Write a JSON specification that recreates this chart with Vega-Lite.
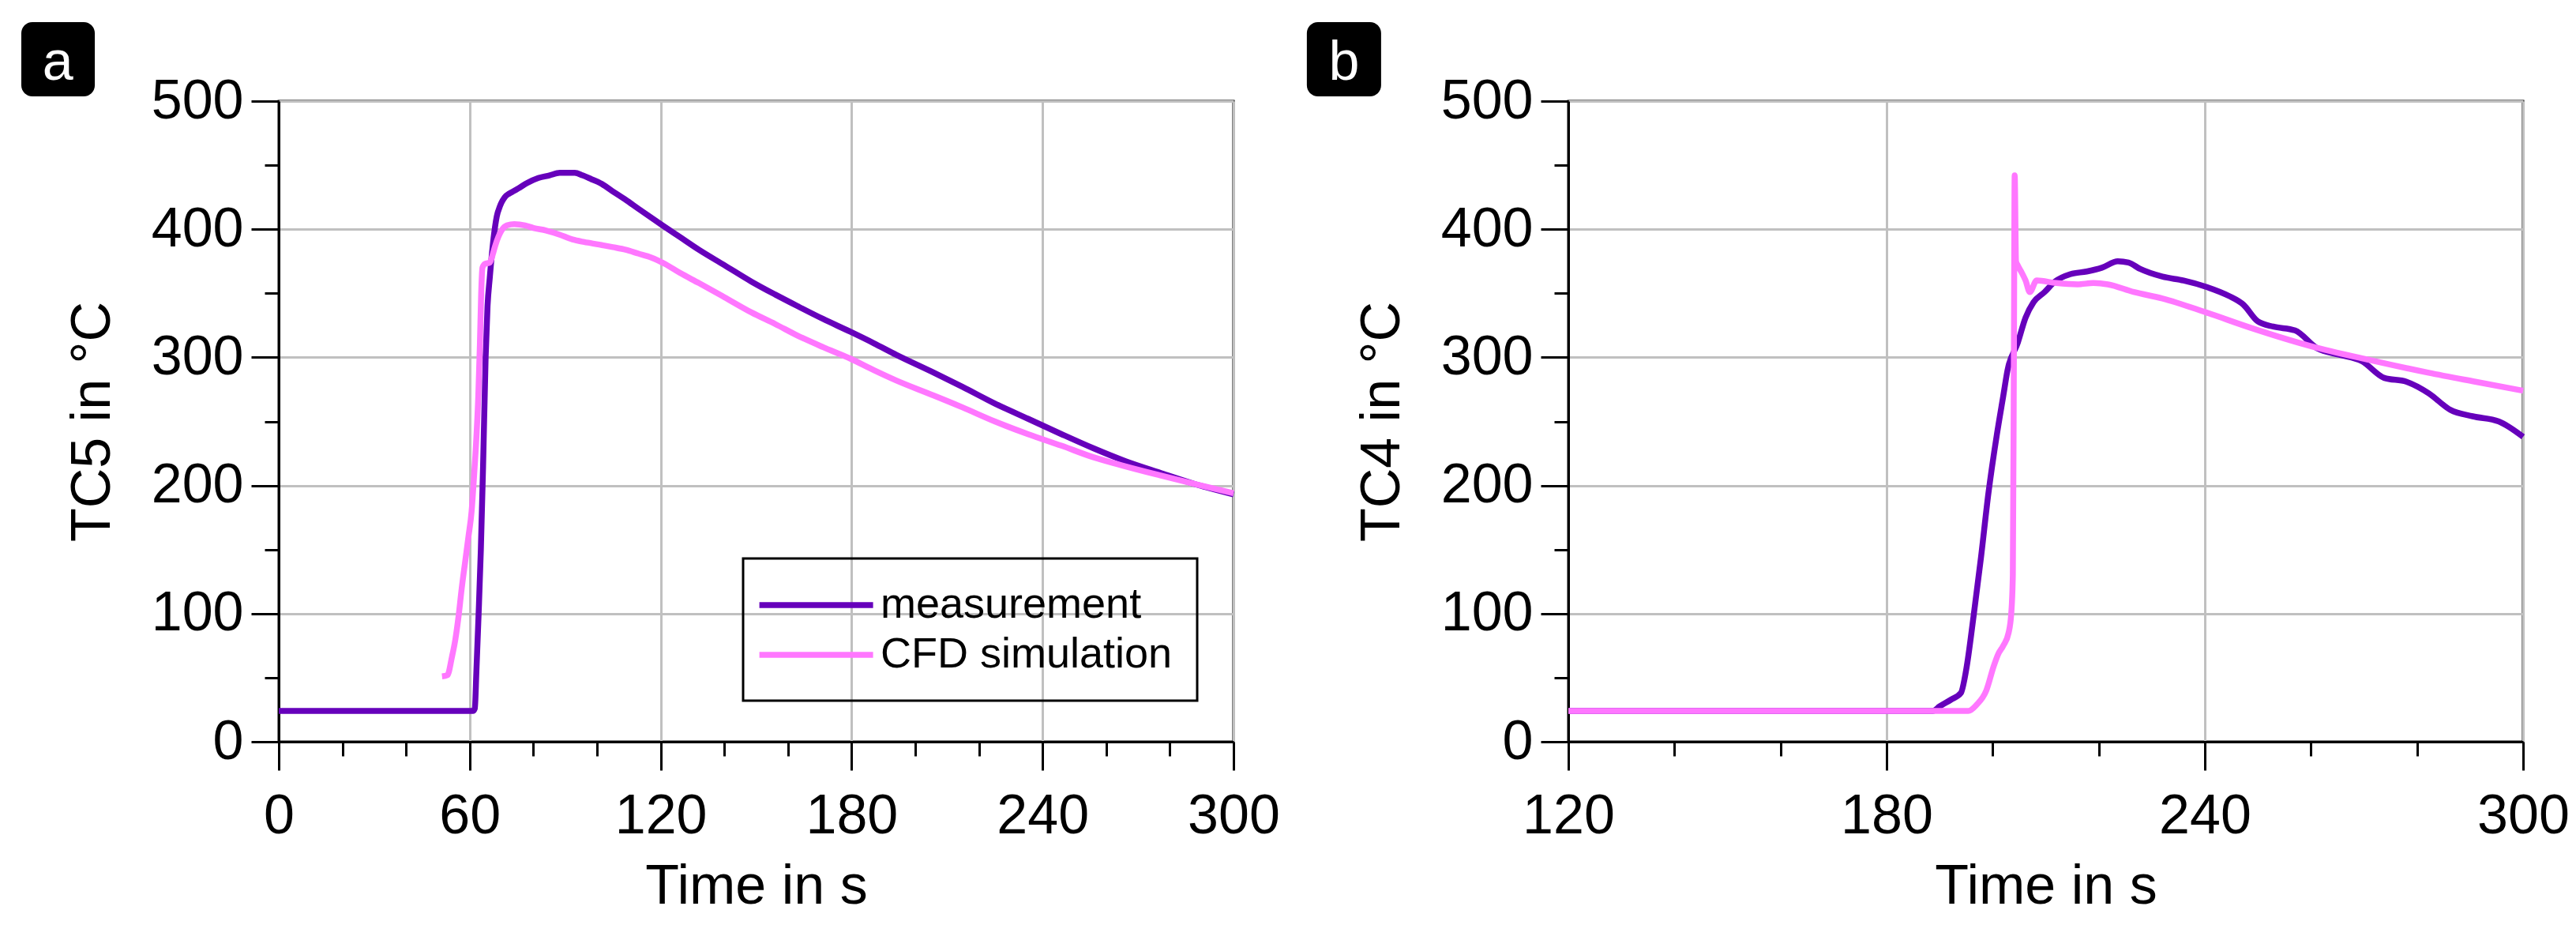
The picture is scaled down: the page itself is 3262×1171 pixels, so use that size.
{
  "$schema": "https://vega.github.io/schema/vega-lite/v6.json",
  "background": "white",
  "padding": {"left": 25, "top": 26, "right": 10, "bottom": 10},
  "bounds": "flush",
  "spacing": 424,
  "resolve": {"legend": {"color": "independent"}},
  "datasets": {
    "a": [
      {"t": 0, "T": 24, "series": "measurement"},
      {"t": 61, "T": 24, "series": "measurement"},
      {"t": 61.6, "T": 26, "series": "measurement"},
      {"t": 62.1, "T": 55, "series": "measurement"},
      {"t": 62.8, "T": 100, "series": "measurement"},
      {"t": 63.5, "T": 150, "series": "measurement"},
      {"t": 64.2, "T": 215, "series": "measurement"},
      {"t": 65, "T": 300, "series": "measurement"},
      {"t": 65.6, "T": 340, "series": "measurement"},
      {"t": 66.3, "T": 362, "series": "measurement"},
      {"t": 67.5, "T": 393, "series": "measurement"},
      {"t": 68.5, "T": 410, "series": "measurement"},
      {"t": 69.5, "T": 418, "series": "measurement"},
      {"t": 71, "T": 425, "series": "measurement"},
      {"t": 72.5, "T": 428, "series": "measurement"},
      {"t": 74, "T": 430, "series": "measurement"},
      {"t": 76, "T": 433, "series": "measurement"},
      {"t": 78, "T": 436, "series": "measurement"},
      {"t": 81.6, "T": 440, "series": "measurement"},
      {"t": 85, "T": 442, "series": "measurement"},
      {"t": 88.3, "T": 444, "series": "measurement"},
      {"t": 93, "T": 444, "series": "measurement"},
      {"t": 95.5, "T": 442, "series": "measurement"},
      {"t": 98.3, "T": 439, "series": "measurement"},
      {"t": 101, "T": 436, "series": "measurement"},
      {"t": 104.7, "T": 430, "series": "measurement"},
      {"t": 109, "T": 423, "series": "measurement"},
      {"t": 113, "T": 416, "series": "measurement"},
      {"t": 120.6, "T": 403, "series": "measurement"},
      {"t": 126, "T": 394, "series": "measurement"},
      {"t": 132, "T": 384, "series": "measurement"},
      {"t": 140, "T": 372, "series": "measurement"},
      {"t": 148.6, "T": 359, "series": "measurement"},
      {"t": 156, "T": 349, "series": "measurement"},
      {"t": 163, "T": 340, "series": "measurement"},
      {"t": 171, "T": 330, "series": "measurement"},
      {"t": 179.6, "T": 320, "series": "measurement"},
      {"t": 187, "T": 311, "series": "measurement"},
      {"t": 194, "T": 302, "series": "measurement"},
      {"t": 205, "T": 289, "series": "measurement"},
      {"t": 214.8, "T": 277, "series": "measurement"},
      {"t": 225, "T": 264, "series": "measurement"},
      {"t": 235.5, "T": 252, "series": "measurement"},
      {"t": 246, "T": 240, "series": "measurement"},
      {"t": 256, "T": 229, "series": "measurement"},
      {"t": 266, "T": 219, "series": "measurement"},
      {"t": 276.8, "T": 210, "series": "measurement"},
      {"t": 288, "T": 201, "series": "measurement"},
      {"t": 300, "T": 193, "series": "measurement"},
      {"t": 51.3, "T": 51, "series": "CFD simulation"},
      {"t": 53, "T": 52, "series": "CFD simulation"},
      {"t": 54.4, "T": 66, "series": "CFD simulation"},
      {"t": 55.5, "T": 80, "series": "CFD simulation"},
      {"t": 56.5, "T": 98, "series": "CFD simulation"},
      {"t": 57.5, "T": 120, "series": "CFD simulation"},
      {"t": 58.6, "T": 141, "series": "CFD simulation"},
      {"t": 59.6, "T": 160, "series": "CFD simulation"},
      {"t": 60.6, "T": 180, "series": "CFD simulation"},
      {"t": 61.3, "T": 205, "series": "CFD simulation"},
      {"t": 62, "T": 233, "series": "CFD simulation"},
      {"t": 62.7, "T": 270, "series": "CFD simulation"},
      {"t": 63.2, "T": 310, "series": "CFD simulation"},
      {"t": 63.6, "T": 350, "series": "CFD simulation"},
      {"t": 64, "T": 370, "series": "CFD simulation"},
      {"t": 64.8, "T": 373, "series": "CFD simulation"},
      {"t": 66.3, "T": 374, "series": "CFD simulation"},
      {"t": 67.2, "T": 380, "series": "CFD simulation"},
      {"t": 68, "T": 387, "series": "CFD simulation"},
      {"t": 69, "T": 394, "series": "CFD simulation"},
      {"t": 70, "T": 399, "series": "CFD simulation"},
      {"t": 71.7, "T": 403, "series": "CFD simulation"},
      {"t": 74, "T": 404, "series": "CFD simulation"},
      {"t": 77.4, "T": 403, "series": "CFD simulation"},
      {"t": 80, "T": 401, "series": "CFD simulation"},
      {"t": 84, "T": 399, "series": "CFD simulation"},
      {"t": 88, "T": 396, "series": "CFD simulation"},
      {"t": 92.3, "T": 392, "series": "CFD simulation"},
      {"t": 96, "T": 390, "series": "CFD simulation"},
      {"t": 100.7, "T": 388, "series": "CFD simulation"},
      {"t": 105, "T": 386, "series": "CFD simulation"},
      {"t": 109, "T": 384, "series": "CFD simulation"},
      {"t": 113, "T": 381, "series": "CFD simulation"},
      {"t": 117, "T": 378, "series": "CFD simulation"},
      {"t": 121.3, "T": 373, "series": "CFD simulation"},
      {"t": 126, "T": 366, "series": "CFD simulation"},
      {"t": 132, "T": 358, "series": "CFD simulation"},
      {"t": 140, "T": 347, "series": "CFD simulation"},
      {"t": 148.6, "T": 335, "series": "CFD simulation"},
      {"t": 156, "T": 326, "series": "CFD simulation"},
      {"t": 163, "T": 317, "series": "CFD simulation"},
      {"t": 171, "T": 308, "series": "CFD simulation"},
      {"t": 179.6, "T": 299, "series": "CFD simulation"},
      {"t": 187, "T": 290, "series": "CFD simulation"},
      {"t": 194, "T": 282, "series": "CFD simulation"},
      {"t": 205, "T": 271, "series": "CFD simulation"},
      {"t": 214.8, "T": 261, "series": "CFD simulation"},
      {"t": 225, "T": 250, "series": "CFD simulation"},
      {"t": 235.5, "T": 240, "series": "CFD simulation"},
      {"t": 246, "T": 231, "series": "CFD simulation"},
      {"t": 256, "T": 222, "series": "CFD simulation"},
      {"t": 266, "T": 215, "series": "CFD simulation"},
      {"t": 276.8, "T": 208, "series": "CFD simulation"},
      {"t": 288, "T": 201, "series": "CFD simulation"},
      {"t": 300, "T": 194, "series": "CFD simulation"}
    ],
    "b": [
      {"t": 120, "T": 24, "series": "measurement"},
      {"t": 188.7, "T": 24, "series": "measurement"},
      {"t": 190, "T": 27.6, "series": "measurement"},
      {"t": 192.2, "T": 33, "series": "measurement"},
      {"t": 194, "T": 38, "series": "measurement"},
      {"t": 195, "T": 56, "series": "measurement"},
      {"t": 196.4, "T": 98, "series": "measurement"},
      {"t": 197.8, "T": 144, "series": "measurement"},
      {"t": 199.2, "T": 194, "series": "measurement"},
      {"t": 200.8, "T": 240, "series": "measurement"},
      {"t": 202, "T": 270, "series": "measurement"},
      {"t": 202.8, "T": 290, "series": "measurement"},
      {"t": 204.7, "T": 311, "series": "measurement"},
      {"t": 206.2, "T": 331, "series": "measurement"},
      {"t": 207.7, "T": 343, "series": "measurement"},
      {"t": 209.8, "T": 351, "series": "measurement"},
      {"t": 211.7, "T": 359, "series": "measurement"},
      {"t": 214.7, "T": 365, "series": "measurement"},
      {"t": 217.7, "T": 367, "series": "measurement"},
      {"t": 220.6, "T": 370, "series": "measurement"},
      {"t": 223.6, "T": 375, "series": "measurement"},
      {"t": 225.6, "T": 374, "series": "measurement"},
      {"t": 227.8, "T": 369, "series": "measurement"},
      {"t": 232, "T": 363, "series": "measurement"},
      {"t": 236, "T": 360, "series": "measurement"},
      {"t": 240.3, "T": 355, "series": "measurement"},
      {"t": 244.5, "T": 348, "series": "measurement"},
      {"t": 247.3, "T": 341, "series": "measurement"},
      {"t": 250, "T": 328, "series": "measurement"},
      {"t": 252.9, "T": 324, "series": "measurement"},
      {"t": 257, "T": 321, "series": "measurement"},
      {"t": 261.2, "T": 307, "series": "measurement"},
      {"t": 265.4, "T": 302, "series": "measurement"},
      {"t": 269.6, "T": 297, "series": "measurement"},
      {"t": 273.8, "T": 284, "series": "measurement"},
      {"t": 278, "T": 281, "series": "measurement"},
      {"t": 282.2, "T": 272, "series": "measurement"},
      {"t": 286.3, "T": 259, "series": "measurement"},
      {"t": 290.5, "T": 254, "series": "measurement"},
      {"t": 295.4, "T": 250, "series": "measurement"},
      {"t": 300, "T": 238, "series": "measurement"},
      {"t": 120, "T": 24, "series": "CFD simulation"},
      {"t": 195.4, "T": 24, "series": "CFD simulation"},
      {"t": 197, "T": 29, "series": "CFD simulation"},
      {"t": 198.8, "T": 40, "series": "CFD simulation"},
      {"t": 200.2, "T": 59, "series": "CFD simulation"},
      {"t": 201, "T": 68, "series": "CFD simulation"},
      {"t": 202, "T": 75, "series": "CFD simulation"},
      {"t": 203, "T": 85, "series": "CFD simulation"},
      {"t": 203.5, "T": 100, "series": "CFD simulation"},
      {"t": 203.8, "T": 130, "series": "CFD simulation"},
      {"t": 204, "T": 300, "series": "CFD simulation"},
      {"t": 204.15, "T": 442, "series": "CFD simulation"},
      {"t": 204.4, "T": 375, "series": "CFD simulation"},
      {"t": 204.7, "T": 372, "series": "CFD simulation"},
      {"t": 205.5, "T": 366, "series": "CFD simulation"},
      {"t": 206.2, "T": 360, "series": "CFD simulation"},
      {"t": 207, "T": 351, "series": "CFD simulation"},
      {"t": 208.3, "T": 360, "series": "CFD simulation"},
      {"t": 212, "T": 358, "series": "CFD simulation"},
      {"t": 216, "T": 357, "series": "CFD simulation"},
      {"t": 219, "T": 358, "series": "CFD simulation"},
      {"t": 221.7, "T": 357, "series": "CFD simulation"},
      {"t": 226.6, "T": 351, "series": "CFD simulation"},
      {"t": 232, "T": 346, "series": "CFD simulation"},
      {"t": 240.3, "T": 335, "series": "CFD simulation"},
      {"t": 248.7, "T": 323, "series": "CFD simulation"},
      {"t": 259.8, "T": 309, "series": "CFD simulation"},
      {"t": 271, "T": 298, "series": "CFD simulation"},
      {"t": 282.2, "T": 288, "series": "CFD simulation"},
      {"t": 291, "T": 281, "series": "CFD simulation"},
      {"t": 300, "T": 274, "series": "CFD simulation"}
    ],
    "tag_a": [{"label": "a", "x1": -80.9, "x2": -57.8, "y1": 503.7, "y2": 561.7, "xc": -69.4, "yb": 516.5}],
    "tag_b": [{"label": "b", "x1": 70.7, "x2": 84.7, "y1": 503.7, "y2": 561.7, "xc": 77.7, "yb": 516.5}]
  },
  "hconcat": [
    {
      "width": 1209,
      "height": 811,
      "layer": [
        {
          "data": {"name": "a"},
          "mark": {"type": "line", "strokeWidth": 7.5, "strokeJoin": "round", "interpolate": "monotone"},
          "encoding": {
            "x": {
              "field": "t", "type": "quantitative", "title": "Time in s",
              "scale": {"domain": [0, 300], "nice": false, "zero": false},
              "axis": {
                "values": [0, 20, 40, 60, 80, 100, 120, 140, 160, 180, 200, 220, 240, 260, 280, 300],
                "labelExpr": "datum.value % 60 === 0 ? datum.label : ''",
                "tickSize": {"condition": {"test": "datum.value % 60 !== 0", "value": 18}, "value": 36},
                "gridOpacity": {"condition": {"test": "datum.value % 60 === 0", "value": 1}, "value": 0},
                "labelPadding": 24,
                "titlePadding": 20
              }
            },
            "y": {
              "field": "T", "type": "quantitative", "title": "TC5 in °C",
              "scale": {"domain": [0, 500], "nice": false},
              "axis": {
                "values": [0, 50, 100, 150, 200, 250, 300, 350, 400, 450, 500],
                "labelExpr": "datum.value % 100 === 0 ? datum.label : ''",
                "tickSize": {"condition": {"test": "datum.value % 100 !== 0", "value": 18}, "value": 35},
                "gridOpacity": {"condition": {"test": "datum.value % 100 === 0", "value": 1}, "value": 0},
                "labelPadding": 10,
                "titlePadding": 38
              }
            },
            "color": {
              "field": "series", "type": "nominal",
              "scale": {"domain": ["measurement", "CFD simulation"], "range": ["#6600bb", "#ff77ff"]},
              "legend": {"orient": "none", "legendX": 588, "legendY": 579, "title": null}
            }
          }
        },
        {
          "data": {"name": "tag_a"},
          "mark": {"type": "rect", "color": "black", "cornerRadius": 14},
          "encoding": {
            "x": {"field": "x1", "type": "quantitative", "title": "Time in s"},
            "x2": {"field": "x2"},
            "y": {"field": "y1", "type": "quantitative", "title": "TC5 in °C"},
            "y2": {"field": "y2"}
          }
        },
        {
          "data": {"name": "tag_a"},
          "mark": {"type": "text", "color": "white", "fontSize": 70, "align": "center", "baseline": "alphabetic"},
          "encoding": {
            "x": {"field": "xc", "type": "quantitative", "title": "Time in s"},
            "y": {"field": "yb", "type": "quantitative", "title": "TC5 in °C"},
            "text": {"field": "label"}
          }
        }
      ]
    },
    {
      "width": 1209,
      "height": 811,
      "layer": [
        {
          "data": {"name": "b"},
          "mark": {"type": "line", "strokeWidth": 7.5, "strokeJoin": "round", "interpolate": "monotone"},
          "encoding": {
            "x": {
              "field": "t", "type": "quantitative", "title": "Time in s",
              "scale": {"domain": [120, 300], "nice": false, "zero": false},
              "axis": {
                "values": [120, 140, 160, 180, 200, 220, 240, 260, 280, 300],
                "labelExpr": "datum.value % 60 === 0 ? datum.label : ''",
                "tickSize": {"condition": {"test": "datum.value % 60 !== 0", "value": 18}, "value": 36},
                "gridOpacity": {"condition": {"test": "datum.value % 60 === 0", "value": 1}, "value": 0},
                "labelPadding": 24,
                "titlePadding": 20
              }
            },
            "y": {
              "field": "T", "type": "quantitative", "title": "TC4 in °C",
              "scale": {"domain": [0, 500], "nice": false},
              "axis": {
                "values": [0, 50, 100, 150, 200, 250, 300, 350, 400, 450, 500],
                "labelExpr": "datum.value % 100 === 0 ? datum.label : ''",
                "tickSize": {"condition": {"test": "datum.value % 100 !== 0", "value": 18}, "value": 35},
                "gridOpacity": {"condition": {"test": "datum.value % 100 === 0", "value": 1}, "value": 0},
                "labelPadding": 10,
                "titlePadding": 38
              }
            },
            "color": {
              "field": "series", "type": "nominal",
              "scale": {"domain": ["measurement", "CFD simulation"], "range": ["#6600bb", "#ff77ff"]},
              "legend": null
            }
          }
        },
        {
          "data": {"name": "tag_b"},
          "mark": {"type": "rect", "color": "black", "cornerRadius": 14},
          "encoding": {
            "x": {"field": "x1", "type": "quantitative", "title": "Time in s"},
            "x2": {"field": "x2"},
            "y": {"field": "y1", "type": "quantitative", "title": "TC4 in °C"},
            "y2": {"field": "y2"}
          }
        },
        {
          "data": {"name": "tag_b"},
          "mark": {"type": "text", "color": "white", "fontSize": 70, "align": "center", "baseline": "alphabetic"},
          "encoding": {
            "x": {"field": "xc", "type": "quantitative", "title": "Time in s"},
            "y": {"field": "yb", "type": "quantitative", "title": "TC4 in °C"},
            "text": {"field": "label"}
          }
        }
      ]
    }
  ],
  "config": {
    "font": "Liberation Sans",
    "view": {"stroke": "black", "strokeWidth": 3},
    "axis": {
      "domainColor": "black",
      "domainWidth": 3,
      "tickColor": "black",
      "tickWidth": 3,
      "labelFontSize": 70,
      "labelColor": "black",
      "labelFlush": false,
      "labelOverlap": false,
      "labelLimit": 0,
      "titleFontSize": 70,
      "titleColor": "black",
      "titleFontWeight": "normal",
      "gridColor": "#c0c0c0",
      "gridWidth": 3
    },
    "legend": {
      "strokeColor": "black",
      "strokeWidth": 3,
      "padding": 31,
      "labelFontSize": 54,
      "labelColor": "black",
      "labelLimit": 0,
      "labelOffset": 87,
      "symbolType": "M-1.6,0H4.4",
      "symbolStrokeWidth": 7.5,
      "symbolSize": 2304,
      "rowPadding": 8
    }
  }
}
